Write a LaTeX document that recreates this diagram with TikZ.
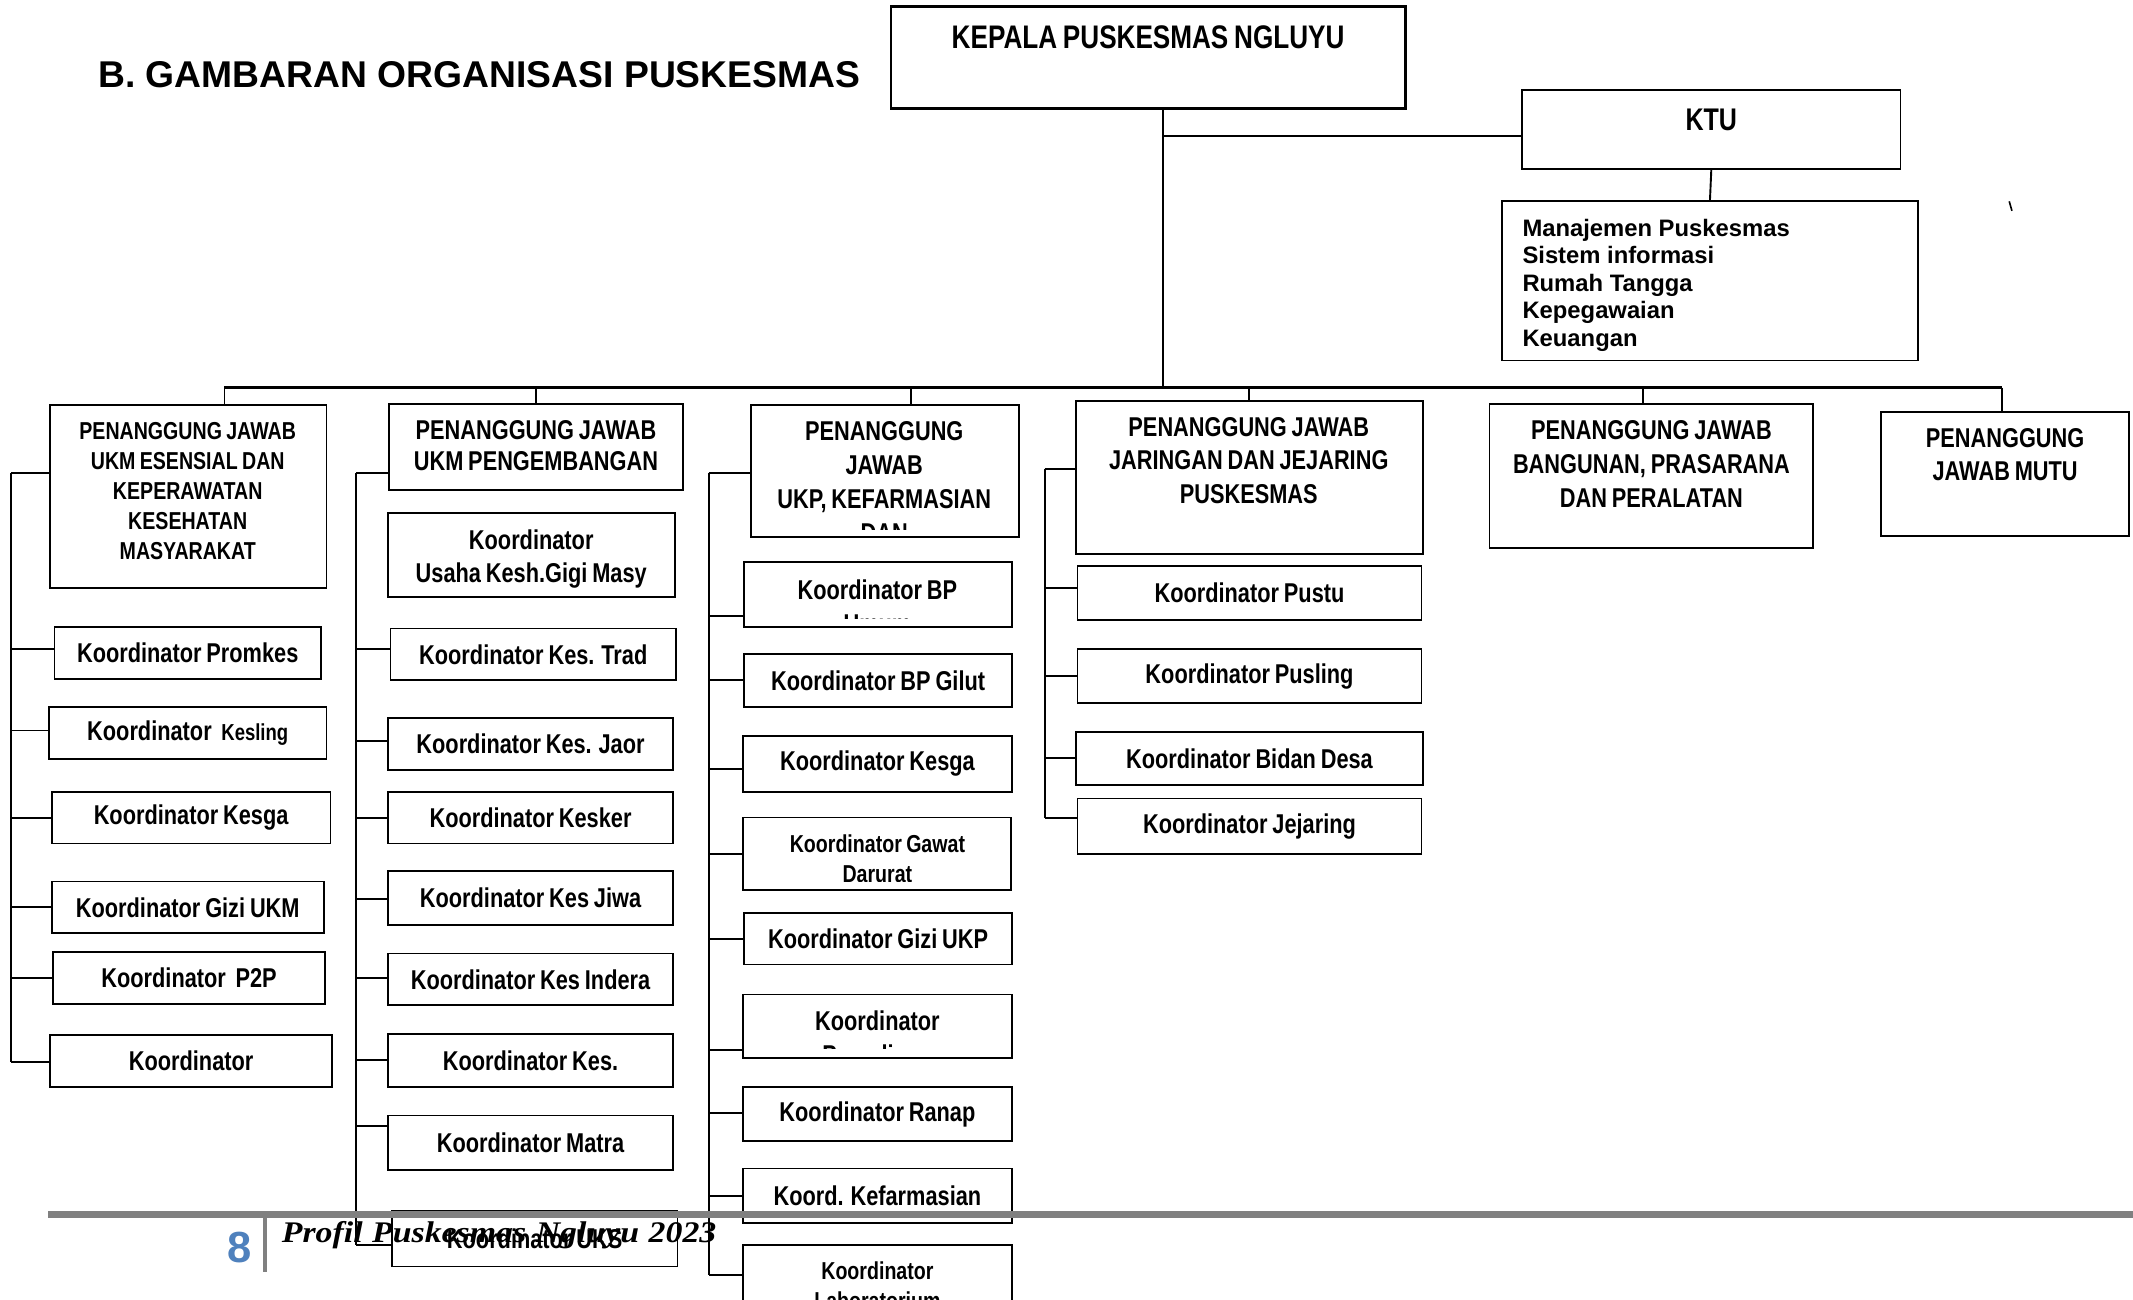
\documentclass[tikz,border=0pt]{standalone}
\usepackage{fontspec}
\setmainfont{Liberation Sans}
\newfontfamily\nar{Liberation Sans}[FakeStretch=0.8, WordSpace=0.8]
\newfontfamily\sbi{Liberation Serif}[FakeStretch=1.13, WordSpace=1.13]
\usetikzlibrary{fit}
\definecolor{pgblue}{RGB}{79,129,189}
\definecolor{barg}{RGB}{128,128,128}
\newcommand\fsz[2]{\fontsize{#1}{#2}\selectfont}
% box from corners
\newcommand\bx[6]{\node[box, fit={(#2,#3) (#4,#5)}, #6] (#1) {};}
% box from corners with centered text node
\newcommand\bxt[7]{\node[box, fit={(#2,#3) (#4,#5)}] (#1) {};
  \node[tx, #6] (#1t) at (#1.center) {#7};}
% branch from spine x=#1 to node #2 at height #3
\newcommand\brc[3]{\draw[ln] (#1,#3) -- (#2.west |- 0,#3);}
% drop from bus to node #1 at x=#2
\newcommand\drp[2]{\draw[ln] (#2,285) -- (#1.north -| #2,0);}
\begin{document}
\begin{tikzpicture}[x=1pt, y=-1pt,
  box/.style={draw, line width=1.3pt, inner sep=0pt},
  kt/.style={font=\nar\bfseries\fsz{20}{24}, align=center},
  tx/.style={inner sep=0pt, align=center},
  ln/.style={line width=1.4pt}]
\fill[white] (0,0) rectangle (1568,955);
\useasboundingbox (0,0) rectangle (1568,955);

% title
\node[anchor=west, inner sep=0pt, font=\bfseries\fsz{27.4}{30}] (title) at (72,55) {B. GAMBARAN ORGANISASI PUSKESMAS};

% top boxes
\bx{kepala}{655}{5}{1033}{80}{line width=2pt}
\node[tx, anchor=north, font=\nar\bfseries\fsz{24}{28}] (tkepala) at (844,18.4) {KEPALA PUSKESMAS NGLUYU};
\bx{ktu}{1119}{66}{1397}{124}{}
\node[tx, anchor=north, font=\nar\bfseries\fsz{23}{28}] (tktu) at (1258,79.7) {KTU};
\bx{manaj}{1104}{148}{1410}{265}{}
\node[tx, anchor=north west, align=left, font=\bfseries\fsz{17.5}{20.3}] (tmanaj) at (1119,160.7)
  {Manajemen Puskesmas\\Sistem informasi\\Rumah Tangga\\Kepegawaian\\Keuangan};
\draw[line width=1.2pt] (1477,148) -- (1479,155);

% heads
\bx{h1}{37}{298}{240}{432}{}
\node[tx, anchor=north, font=\nar\bfseries\fsz{18}{22}] (th1) at (138,310.5)
  {PENANGGUNG JAWAB\\UKM ESENSIAL DAN\\KEPERAWATAN\\KESEHATAN\\MASYARAKAT};
\bx{h2}{286}{297}{502}{360}{}
\node[tx, anchor=north, font=\nar\bfseries\fsz{20}{23}] (th2) at (394,308.8)
  {PENANGGUNG JAWAB\\UKM PENGEMBANGAN};
\bx{h3}{552}{298}{749}{395}{}
\begin{scope}
\clip (552,298) rectangle (749,389);
\node[tx, anchor=north, font=\nar\bfseries\fsz{20}{25}] (th3) at (650,309.8)
  {PENANGGUNG\\JAWAB\\UKP, KEFARMASIAN\\DAN};
\end{scope}
\bx{h4}{791}{295}{1046}{407}{}
\node[tx, anchor=north, font=\nar\bfseries\fsz{20}{24.5}] (th4) at (918,306.8)
  {PENANGGUNG JAWAB\\JARINGAN DAN JEJARING\\PUSKESMAS};
\bx{h5}{1095}{297}{1333}{403}{}
\node[tx, anchor=north, font=\nar\bfseries\fsz{20}{25}] (th5) at (1214,308.8)
  {PENANGGUNG JAWAB\\BANGUNAN, PRASARANA\\DAN PERALATAN};
\bx{h6}{1383}{303}{1565}{394}{}
\node[tx, anchor=north, font=\nar\bfseries\fsz{20}{24}] (th6) at (1474,314.8)
  {PENANGGUNG\\JAWAB MUTU};

% trunk, KTU, bus
\coordinate (trunkT) at (855,80);
\coordinate (busL) at (165,285);
\coordinate (busR) at (1472,285);
\draw[line width=1.8pt] (kepala.south -| trunkT) -- (trunkT |- busL);
\draw[line width=1.8pt] (trunkT |- 0,100) -- (ktu.west |- 0,100);
\draw[ln] (ktu.south) -- (manaj.north);
\draw[line width=1.8pt] (busL) -- (busR);
\drp{h1}{165}
\drp{h2}{394}
\drp{h3}{670}
\drp{h4}{918}
\drp{h5}{1208}
\drp{h6}{1472}

% column 1
\bxt{c1a}{40}{461}{236}{499}{kt}{Koordinator Promkes}
\bxt{c1b}{36}{520}{240}{558}{kt}{Koordinator\ \ {\fsz{17}{20}Kesling}}
\bxt{c1c}{38}{582}{243}{620}{kt}{Koordinator Kesga}
\bxt{c1d}{38}{648}{238}{686}{kt}{Koordinator Gizi UKM}
\bxt{c1e}{39}{700}{239}{738}{kt}{Koordinator\ \ P2P}
\bxt{c1f}{37}{761}{244}{799}{kt}{Koordinator}
\draw[ln] (8,348) -- (8,781);
\brc{8}{h1}{348}
\brc{8}{c1a}{477}
\brc{8}{c1b}{537}
\brc{8}{c1c}{601}
\brc{8}{c1d}{667}
\brc{8}{c1e}{719}
\brc{8}{c1f}{781}

% column 2
\bx{c2a}{285}{377}{496}{439}{}
\node[tx, kt] (c2at) at ([yshift=-3pt]c2a.center) {Koordinator\\Usaha Kesh.Gigi Masy};
\bxt{c2b}{287}{462}{497}{500}{kt}{Koordinator Kes. Trad}
\bxt{c2c}{285}{528}{495}{566}{kt}{Koordinator Kes. Jaor}
\bxt{c2d}{285}{582}{495}{620}{kt}{Koordinator Kesker}
\bxt{c2e}{285}{640}{495}{680}{kt}{Koordinator Kes Jiwa}
\bxt{c2f}{285}{701}{495}{739}{kt}{Koordinator Kes Indera}
\bxt{c2g}{285}{760}{495}{799}{kt}{Koordinator Kes.}
\bxt{c2h}{285}{820}{495}{860}{kt}{Koordinator Matra}
\bxt{c2i}{288}{890}{498}{931}{kt}{Koordinator UKS}
\draw[ln] (262,348) -- (262,915);
\brc{262}{h2}{348}
\brc{262}{c2b}{477}
\brc{262}{c2c}{545}
\brc{262}{c2d}{601}
\brc{262}{c2e}{661}
\brc{262}{c2f}{719}
\brc{262}{c2g}{779}
\brc{262}{c2h}{828}
\brc{262}{c2i}{915}

% column 3
\bx{c3a}{547}{413}{744}{461}{}
\begin{scope}
\clip (547,413) rectangle (744,455);
\node[tx, anchor=north, font=\nar\bfseries\fsz{20}{25}] (t3a) at (645,425.8) {Koordinator BP\\Umum};
\end{scope}
\bxt{c3b}{547}{481}{744}{520}{kt}{Koordinator BP Gilut}
\bxt{c3c}{546}{541}{744}{582}{kt}{Koordinator Kesga}
\bx{c3d}{546}{601}{743}{654}{}
\begin{scope}
\clip (546,601) rectangle (743,648);
\node[tx, anchor=north, font=\nar\bfseries\fsz{18}{22}] (t3d) at (645,613.5) {Koordinator Gawat\\Darurat};
\end{scope}
\bxt{c3e}{547}{671}{744}{709}{kt}{Koordinator Gizi UKP}
\bx{c3f}{546}{731}{744}{778}{}
\begin{scope}
\clip (546,731) rectangle (744,771);
\node[tx, anchor=north, font=\nar\bfseries\fsz{20}{25}] (t3f) at (645,742.8) {Koordinator\\Persalinan};
\end{scope}
\bxt{c3g}{546}{799}{744}{839}{kt}{Koordinator Ranap}
\bxt{c3h}{546}{859}{744}{899}{kt}{Koord. Kefarmasian}
\bx{c3i}{546}{915}{744}{975}{}
\node[tx, anchor=north, font=\nar\bfseries\fsz{18}{22}] (t3i) at (645,927.5) {Koordinator\\Laboratorium};
\draw[ln] (521,348) -- (521,937);
\brc{521}{h3}{348}
\brc{521}{c3a}{453}
\brc{521}{c3b}{500}
\brc{521}{c3c}{565}
\brc{521}{c3d}{628}
\brc{521}{c3e}{690}
\brc{521}{c3f}{772}
\brc{521}{c3g}{818}
\brc{521}{c3h}{879}
\brc{521}{c3i}{937}

% column 4
\bxt{c4a}{792}{416}{1045}{456}{kt}{Koordinator Pustu}
\bxt{c4b}{792}{477}{1045}{517}{kt}{Koordinator Pusling}
\bxt{c4c}{791}{538}{1046}{577}{kt}{Koordinator Bidan Desa}
\bxt{c4d}{792}{587}{1045}{628}{kt}{Koordinator Jejaring}
\draw[ln] (768,345) -- (768,601);
\brc{768}{h4}{345}
\brc{768}{c4a}{432}
\brc{768}{c4b}{497}
\brc{768}{c4c}{557}
\brc{768}{c4d}{601}

% footer
\fill[barg] (35,890.5) rectangle (1568,895.5);
\fill[barg] (193.5,895) rectangle (196.5,935);
\node[inner sep=0pt, font=\bfseries\fsz{32}{32}, text=pgblue] (pg) at (176,917) {8};
\node[anchor=west, inner sep=0pt, font=\sbi\bfseries\itshape\fsz{22}{22}] (ft) at (207,908) {Profil Puskesmas Ngluyu 2023};
\end{tikzpicture}
\end{document}
